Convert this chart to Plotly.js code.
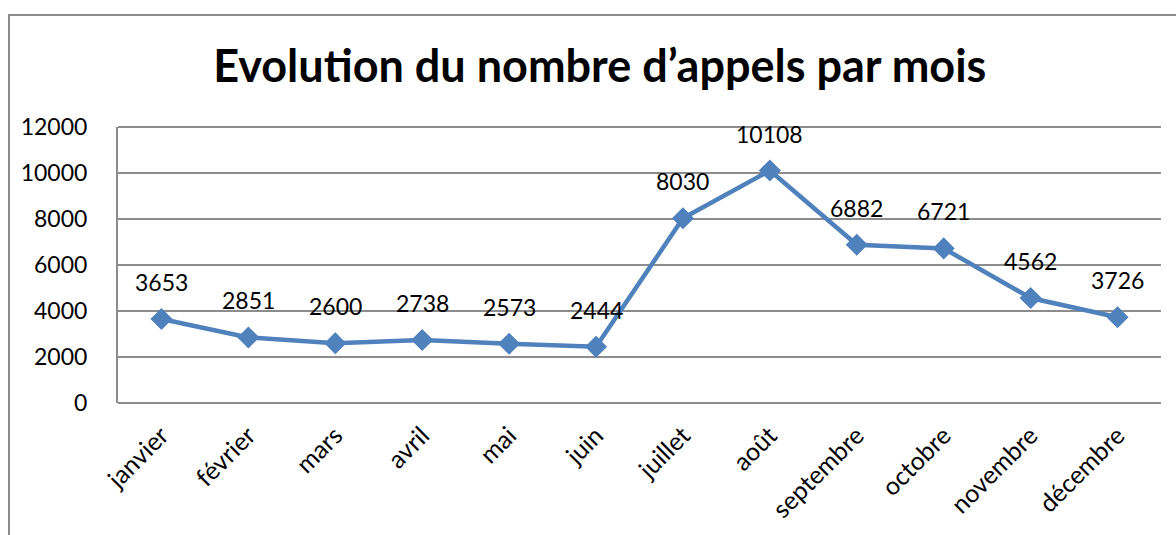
<!DOCTYPE html>
<html>
<head>
<meta charset="utf-8">
<script src="https://cdn.plot.ly/plotly-3.0.1.min.js"></script>
<style>
html,body{margin:0;padding:0;background:#fff;}
#wrap{position:relative;width:1176px;height:535px;}
#chart{position:absolute;left:0;top:0;width:1176px;height:535px;}
#frame{position:absolute;left:8px;top:14px;width:1180px;height:540px;border-left:2px solid #8c8c8c;border-top:2px solid #8c8c8c;pointer-events:none;}
</style>
</head>
<body>
<div id="wrap"><div id="chart"></div><div id="frame"></div></div>
<script>
const months = ["janvier","février","mars","avril","mai","juin","juillet","août","septembre","octobre","novembre","décembre"];
const calls = [3653,2851,2600,2738,2573,2444,8030,10108,6882,6721,4562,3726];
const yTicks = [0,2000,4000,6000,8000,10000,12000];

const FONT = "Lato, 'Open Sans', sans-serif";

const trace = {
  x: months, y: calls, type: "scatter", mode: "lines+markers",
  line: {color: "#4F81BD", width: 4.5},
  marker: {symbol: "diamond", size: 17, color: "#4F81BD"},
  hoverinfo: "skip"
};

const annotations = months.map((m, i) => ({
  x: m, y: calls[i], text: String(calls[i]), showarrow: false,
  yshift: 37, font: {family: FONT, size: 23, color: "#000"}
}));

const layout = {
  width: 1176, height: 535,
  margin: {l: 118, r: 15, t: 127, b: 132},
  paper_bgcolor: "rgba(0,0,0,0)", plot_bgcolor: "#fff",
  showlegend: false,
  title: {text: "Evolution du nombre d’appels par mois", x: 0.51, xref: "container", xanchor: "center",
          y: 0.877, yref: "container", yanchor: "middle",
          font: {family: FONT, size: 45, color: "#000", weight: "bold"}},
  xaxis: {type: "category", range: [-0.5, 11.5], tickangle: -45, showgrid: false, zeroline: false,
          showline: false, ticks: "", ticklabelstandoff: 12,
          tickfont: {family: FONT, size: 25, color: "#000"}},
  yaxis: {range: [0, 12000], tickvals: yTicks, ticktext: yTicks.map(String), showgrid: true,
          gridcolor: "#8c8c8c", gridwidth: 1.5, zeroline: false, showline: true, linecolor: "#8c8c8c",
          linewidth: 2, ticks: "", ticklen: 0, ticklabelstandoff: 24,
          tickfont: {family: FONT, size: 23, color: "#000"}},
  shapes: [{type: "line", xref: "paper", yref: "paper", x0: 0, x1: 1, y0: 0, y1: 0,
            line: {color: "#8c8c8c", width: 2}},
           {type: "line", xref: "paper", yref: "paper", x0: 0, x1: 1, y0: 1, y1: 1,
            line: {color: "#8c8c8c", width: 2}}],
  annotations: annotations
};

Plotly.newPlot("chart", [trace], layout, {displayModeBar: false, staticPlot: true});
</script>
</body>
</html>
